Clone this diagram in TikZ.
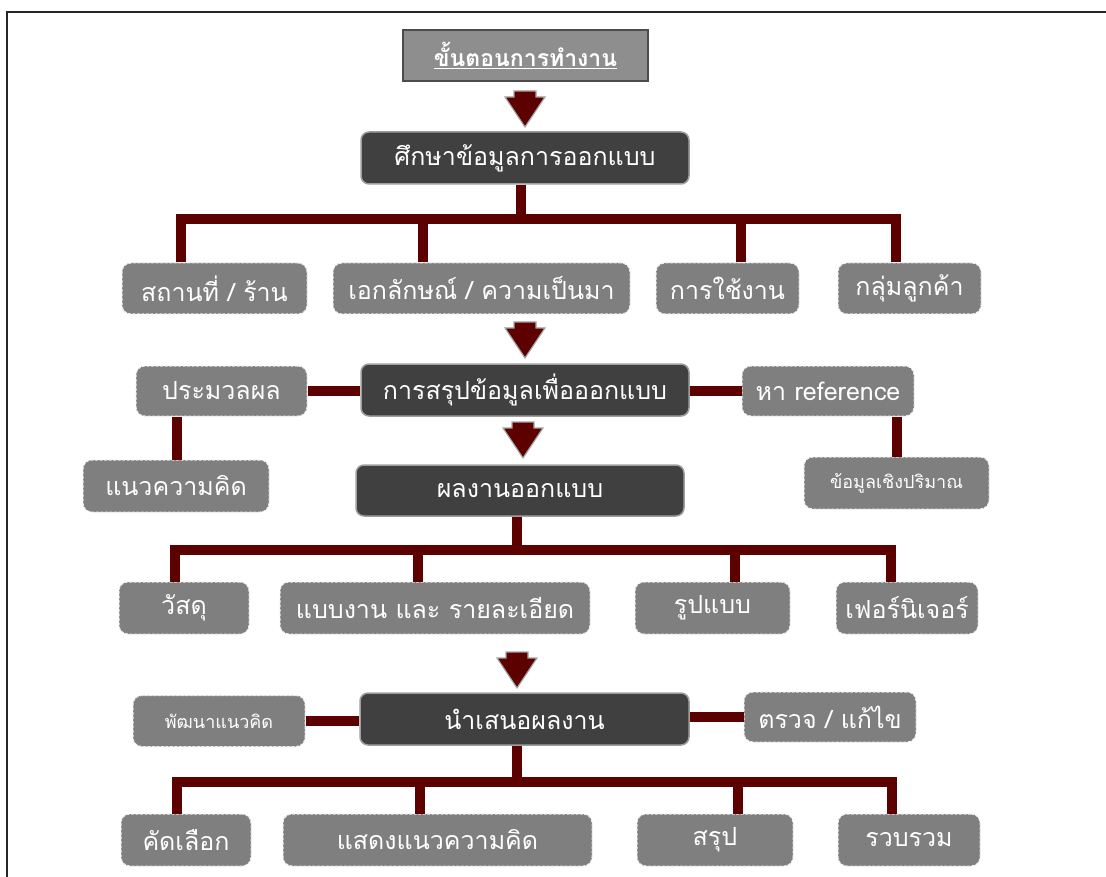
\documentclass[tikz,border=0pt]{standalone}
\usepackage{fontspec}
\newfontfamily\thai[Script=Thai]{Loma}
\definecolor{maroon}{HTML}{5C0000}
\definecolor{darkbox}{HTML}{404040}
\definecolor{midbox}{HTML}{7F7F7F}
\definecolor{titlebox}{HTML}{8E8E8E}
\begin{document}
\begin{tikzpicture}[x=1pt,y=-1pt,
  mainbox/.style={rectangle, rounded corners=8pt, fill=darkbox, draw=gray!75, line width=1.5pt,
    minimum height=52, inner sep=0pt, text=white, font=\thai\fontsize{25}{29}\selectfont},
  subbox/.style={rectangle, rounded corners=9pt, fill=midbox, draw=white!85!gray, line width=1pt,
    dash pattern=on 3pt off 1.5pt, minimum height=51, inner sep=0pt, text=white,
    font=\thai\fontsize{25}{29}\selectfont},
  smalltext/.style={font=\thai\fontsize{18}{21}\selectfont},
  conn/.style={draw=maroon, line width=10.5pt, line join=miter, line cap=butt},
  blockarrow/.pic={\filldraw[fill=maroon, draw=gray!70, line width=1.2pt]
     (-11,0) -- (11,0) -- (11,6) -- (20,6) -- (0,36) -- (-20,6) -- (-11,6) -- cycle;}
]
\useasboundingbox (0,0) rectangle (1106,877);
% frame
\draw[line width=1.8pt, draw=black!85] (7,877) -- (7,12) -- (1106,12);

% title
\node[rectangle, fill=titlebox, draw=gray!60!black, line width=2pt, minimum width=245, minimum height=51,
  inner sep=0pt, text=white, font=\thai\bfseries\fontsize{23}{27}\selectfont] (title) at (525.5,55.5)
  {\underline{ขั้นตอนการทำงาน}};

% main boxes
\node[mainbox, minimum width=328] (b1) at (525,158) {ศึกษาข้อมูลการออกแบบ};
\node[mainbox, minimum width=328] (b2) at (525,390) {การสรุปข้อมูลเพื่อออกแบบ};
\node[mainbox, minimum width=328, minimum height=51] (b3) at (520,490.5) {ผลงานออกแบบ};
\node[mainbox, minimum width=329] (b4) at (524.5,719) {นำเสนอผลงาน};

% row 1
\node[subbox, minimum width=185] (s1) at (214.5,288.5) {สถานที่ / ร้าน};
\node[subbox, minimum width=297] (s2) at (481.5,288.5) {เอกลักษณ์ / ความเป็นมา};
\node[subbox, minimum width=143] (s3) at (727.5,288.5) {การใช้งาน};
\node[subbox, minimum width=143] (s4) at (909.5,288.5) {กลุ่มลูกค้า};

% row 2 sides
\node[subbox, minimum width=171, minimum height=50] (p1) at (221.5,391) {ประมวลผล};
\node[subbox, minimum width=186, minimum height=52] (p2) at (176,486) {แนวความคิด};
\node[subbox, minimum width=172, minimum height=50] (r1) at (828,391) {หา reference};
\node[subbox, smalltext, minimum width=185, minimum height=52] (r2) at (896.5,483) {ข้อมูลเชิงปริมาณ};

% row 3
\node[subbox, minimum width=130, minimum height=52] (m1) at (184,608) {วัสดุ};
\node[subbox, minimum width=310, minimum height=52] (m2) at (435,608) {แบบงาน และ รายละเอียด};
\node[subbox, minimum width=155, minimum height=52] (m3) at (712.5,608) {รูปแบบ};
\node[subbox, minimum width=142, minimum height=52] (m4) at (907,608) {เฟอร์นิเจอร์};

% row 4 sides
\node[subbox, smalltext, minimum width=172, minimum height=51] (d1) at (219,721) {พัฒนาแนวคิด};
\node[subbox, minimum width=172, minimum height=50] (d2) at (830,717) {ตรวจ / แก้ไข};

% bottom row
\node[subbox, minimum width=130, minimum height=52] (e1) at (186,840) {คัดเลือก};
\node[subbox, minimum width=309, minimum height=52] (e2) at (437.5,840) {แสดงแนวความคิด};
\node[subbox, minimum width=156, minimum height=52] (e3) at (715,840) {สรุป};
\node[subbox, minimum width=142, minimum height=52] (e4) at (909,840) {รวบรวม};

% block arrows
\pic at (525,91) {blockarrow};
\pic at (525,322) {blockarrow};
\pic at (523,422) {blockarrow};
\pic at (517,652) {blockarrow};

% connectors row 1
\coordinate (j1) at (521,219);
\draw[conn] (j1 |- b1.south) -- (j1);
\draw[conn] (181,0 |- s1.north) -- (181,219) -- (896,219) -- (896,0 |- s4.north);
\draw[conn] (423,0 |- s2.north) -- (423,219);
\draw[conn] (741,0 |- s3.north) -- (741,219);

% connectors row 2
\draw[conn] (p1.east) -- (p1.east -| b2.west);
\draw[conn] (r1.west) -- (r1.west -| b2.east);
\draw[conn] (177,0 |- p1.south) -- (177,0 |- p2.north);
\draw[conn] (897,0 |- r1.south) -- (897,0 |- r2.north);

% connectors row 3
\coordinate (j3) at (517,550);
\draw[conn] (j3 |- b3.south) -- (j3);
\draw[conn] (175,0 |- m1.north) -- (175,550) -- (891,550) -- (891,0 |- m4.north);
\draw[conn] (418,0 |- m2.north) -- (418,550);
\draw[conn] (735,0 |- m3.north) -- (735,550);

% connectors row 4
\draw[conn] (d1.east) -- (d1.east -| b4.west);
\draw[conn] (d2.west) -- (d2.west -| b4.east);
\coordinate (j4) at (517,782);
\draw[conn] (j4 |- b4.south) -- (j4);
\draw[conn] (177,0 |- e1.north) -- (177,782) -- (892,782) -- (892,0 |- e4.north);
\draw[conn] (420,0 |- e2.north) -- (420,782);
\draw[conn] (738,0 |- e3.north) -- (738,782);
\end{tikzpicture}
\end{document}
